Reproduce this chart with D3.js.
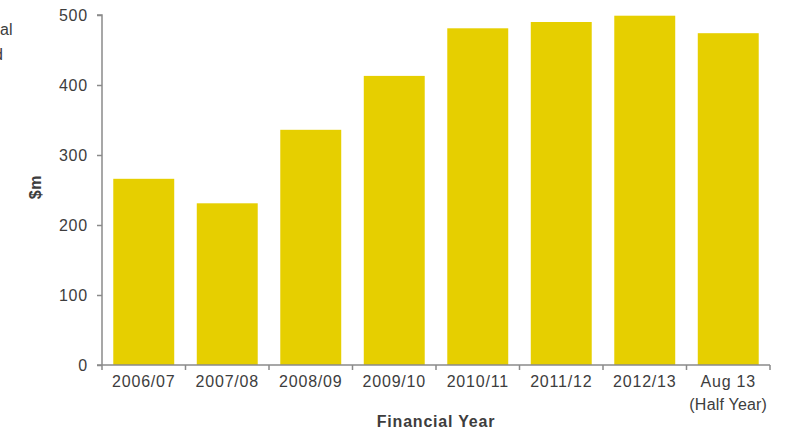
<!DOCTYPE html>
<html><head><meta charset="utf-8">
<script src="https://cdn.jsdelivr.net/npm/d3@7"></script>
<style>
body{margin:0;background:#fff;}
text{font-family:"Liberation Sans",Arial,Helvetica,sans-serif;fill:#3d3d3d;}
</style></head>
<body><svg id="c" width="793" height="434"></svg>
<script>
const categories = ["2006/07","2007/08","2008/09","2009/10","2010/11","2011/12","2012/13","Aug 13"];
const subLabels = ["","","","","","","","(Half Year)"];
const values = [266, 231, 336, 413, 481, 490, 499, 474];
const yTicks = [0,100,200,300,400,500];

const svg = d3.select("#c");
const x = d3.scaleBand().domain(categories).range([102, 770]).paddingInner(0.27).paddingOuter(0.135);
const y = d3.scaleLinear().domain([0, 500]).range([365, 15]);
const axisColor = "#8a8a8a";

// cropped side text (partially outside the frame in the reference)
svg.append("text").attr("x", 0).attr("y", 35).style("font-size","16px").text("al");
svg.append("text").attr("x", 3).attr("y", 60).attr("text-anchor","end").style("font-size","16px").text("d");

// bars
svg.selectAll("rect.bar").data(values).enter().append("rect")
  .attr("x",(d,i)=>x(categories[i]))
  .attr("y",d=>y(d))
  .attr("width",x.bandwidth())
  .attr("height",d=>y(0)-y(d))
  .attr("fill","#E6CF00");

// y axis
const ya = svg.append("g").attr("transform","translate(102,0)")
  .call(d3.axisLeft(y).tickValues(yTicks).tickSize(5).tickPadding(9).tickFormat(d3.format("d")));
ya.select(".domain").attr("stroke",axisColor).attr("stroke-width",1.5).attr("d","M-5,15H0V365");
ya.selectAll(".tick line").attr("stroke",axisColor).attr("stroke-width",1.5);
ya.selectAll(".tick text").style("font-size","16px").style("letter-spacing","0.8px").attr("fill","#3d3d3d").attr("font-family",null);

// x axis
const xa = svg.append("g").attr("transform","translate(0,365)");
xa.append("line").attr("x1",97).attr("x2",770).attr("y1",0).attr("y2",0).attr("stroke",axisColor).attr("stroke-width",1.5);
const bounds = d3.range(categories.length+1).map(i=>102+i*((770-102)/categories.length));
xa.selectAll("line.t").data(bounds).enter().append("line")
  .attr("x1",d=>d).attr("x2",d=>d).attr("y1",0).attr("y2",5)
  .attr("stroke",axisColor).attr("stroke-width",1.5);
xa.selectAll("text.l").data(categories).enter().append("text")
  .attr("x",d=>x(d)+x.bandwidth()/2).attr("y",22)
  .attr("text-anchor","middle").style("font-size","16px").style("letter-spacing","0.8px")
  .text(d=>d);
xa.selectAll("text.s").data(subLabels).enter().append("text")
  .attr("x",(d,i)=>x(categories[i])+x.bandwidth()/2).attr("y",45)
  .attr("text-anchor","middle").style("font-size","16px").style("letter-spacing","0.2px")
  .text(d=>d);

// axis titles
svg.append("text").attr("x",436).attr("y",427).attr("text-anchor","middle")
  .style("font-size","16px").style("font-weight","bold").style("letter-spacing","0.8px").text("Financial Year");
svg.append("text").attr("transform","translate(41,187) rotate(-90)").attr("text-anchor","middle")
  .style("font-size","16px").style("font-weight","bold").style("letter-spacing","0.8px").text("$m");
</script></body></html>
